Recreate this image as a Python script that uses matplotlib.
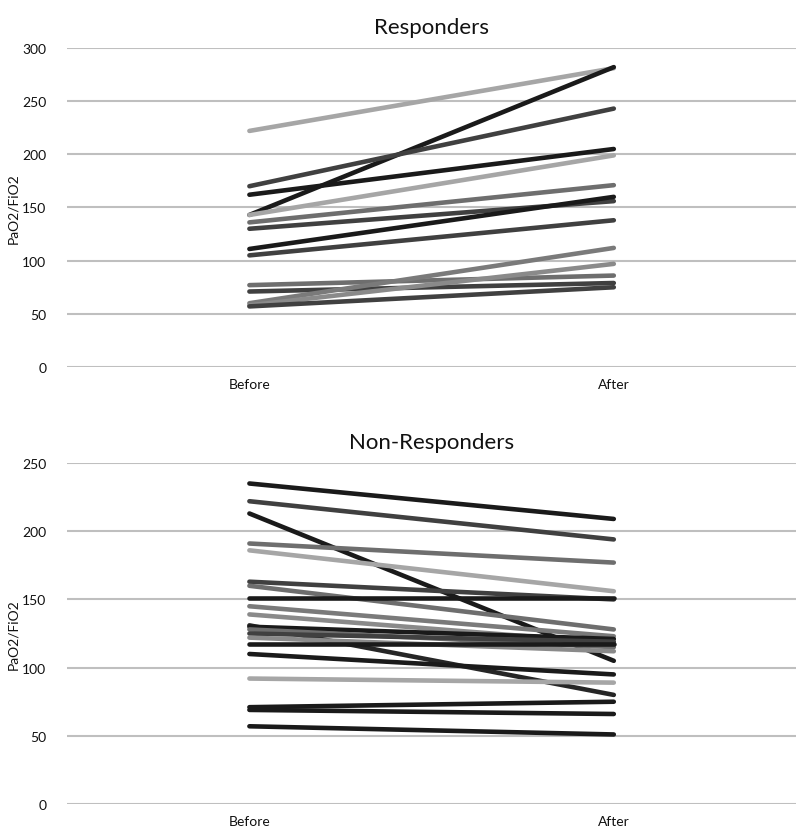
import matplotlib.pyplot as plt

plt.rcParams.update({
    'font.family': ['Lato', 'DejaVu Sans'],
    'font.size': 10,
})

CATEGORIES = ['Before', 'After']

# Responders: (before, after, shade)
RESP_BEFORE = [222, 143, 170, 162, 143, 136, 130, 111, 105, 77, 71, 60, 58, 57]
RESP_AFTER = [281, 282, 243, 205, 199, 171, 156, 160, 138, 86, 79, 112, 97, 75]
RESP_SHADE = ['#a6a6a6', '#1a1a1a', '#404040', '#1a1a1a', '#a6a6a6', '#6e6e6e',
              '#404040', '#1a1a1a', '#404040', '#6e6e6e', '#404040', '#7a7a7a',
              '#8a8a8a', '#404040']

# Non-responders
NONRESP_BEFORE = [235, 222, 213, 191, 186, 163, 160, 151, 145, 139, 131, 130,
                  128, 125, 122, 117, 110, 92, 71, 69, 57]
NONRESP_AFTER = [209, 194, 105, 177, 156, 150, 128, 151, 123, 118, 80, 121,
                 115, 119, 112, 117, 95, 89, 75, 66, 51]
NONRESP_SHADE = ['#1a1a1a', '#404040', '#1a1a1a', '#6e6e6e', '#a6a6a6', '#404040',
                 '#6e6e6e', '#1a1a1a', '#7a7a7a', '#8a8a8a', '#262626', '#1a1a1a',
                 '#6e6e6e', '#404040', '#8a8a8a', '#1a1a1a', '#1a1a1a', '#a6a6a6',
                 '#1a1a1a', '#1a1a1a', '#1a1a1a']


def draw_panel(ax, before, after, shades, title, ymax):
    for b, a, c in zip(before, after, shades):
        ax.plot([0, 1], [b, a], color=c, linewidth=3.3, solid_capstyle='round')
    ax.set_xlim(-0.5, 1.5)
    ax.set_ylim(0, ymax)
    ax.set_yticks(range(0, ymax + 1, 50))
    ax.set_xticks([0, 1])
    ax.set_xticklabels(CATEGORIES)
    ax.yaxis.grid(True, color='#bfbfbf', linewidth=1.5)
    ax.set_axisbelow(True)
    for s in ax.spines.values():
        s.set_visible(False)
    ax.tick_params(length=0, colors='#111111', labelsize=10)
    ax.tick_params(axis='y', pad=15)
    ax.tick_params(axis='x', pad=8)
    ax.set_ylabel('PaO2/FiO2', fontsize=10, color='#111111')
    ax.yaxis.set_label_coords(-0.066, 0.5)
    ax.set_title(title, fontsize=16, color='#111111', pad=11)


fig = plt.figure(figsize=(8, 8.37), dpi=100)
ax1 = fig.add_axes([0.084, 0.5603, 0.911, 0.3812])
ax2 = fig.add_axes([0.084, 0.0382, 0.911, 0.4074])

draw_panel(ax1, RESP_BEFORE, RESP_AFTER, RESP_SHADE, 'Responders', 300)
draw_panel(ax2, NONRESP_BEFORE, NONRESP_AFTER, NONRESP_SHADE, 'Non-Responders', 250)

fig.savefig('out.png', dpi=100)
